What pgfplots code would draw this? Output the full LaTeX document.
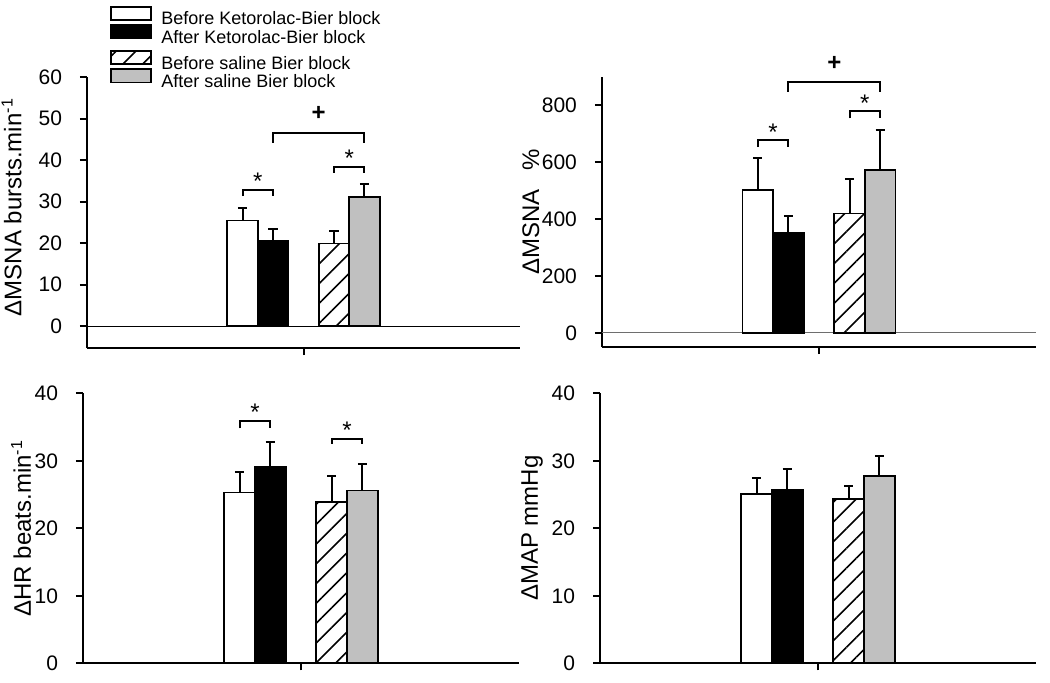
\documentclass[border=0pt]{standalone}
\usepackage{fontspec}
\setmainfont{Liberation Sans}
\usepackage{pgfplots}
\pgfplotsset{compat=1.18}
\usetikzlibrary{patterns.meta}
\definecolor{bargray}{RGB}{192,192,192}
\definecolor{zerogray}{RGB}{110,110,110}

\pgfplotsset{
  myaxis/.style={
    scale only axis, anchor=south west,
    axis x line*=bottom, axis y line*=left,
    axis line style={black, line width=1pt, -},
    xmin=-7.1, xmax=7.1,
    xtick={0}, xticklabels={},
    tick align=outside, major tick length=3.5pt,
    tick style={black, line width=1pt},
    yticklabel style={font=\fontsize{10.5}{12}\selectfont},
    yticklabel shift=5.5pt,
    /pgf/number format/assume math mode=true,
    ylabel style={font=\fontsize{12}{14}\selectfont},
    clip=false,
    legend cell align=left,
    legend image code/.code={\draw[##1, line width=0.9pt] (0pt,-0.1pt) rectangle (20pt,6.65pt);},
  },
  mybar/.style={ybar, bar shift=0pt, bar width=1, draw=black, line width=0.9pt,
    error bars/y dir=plus, error bars/y explicit,
    error bars/error bar style={line width=1pt, black},
    error bars/error mark options={rotate=90, mark size=2.3pt, line width=1pt, black}},
  bwhite/.style={mybar, fill=white},
  bblack/.style={mybar, fill=black},
  bhatch/.style={mybar, fill=white, postaction={pattern={Lines[angle=45,distance=7pt,line width=0.8pt]}}},
  bgray/.style={mybar, fill=bargray},
  brk/.style={black, line width=1pt, mark=none},
  lgd/.style={draw=none, fill=none, inner sep=0pt, outer sep=0pt, row sep=-2pt, column sep=4.8pt,
    font=\fontsize{9}{10}\selectfont, nodes={inner sep=0pt, outer sep=0pt}},
}

\begin{document}
\begin{tikzpicture}
\path[use as bounding box] (0,0) rectangle (525pt,341pt);

% ---------- Panel 1: MSNA bursts/min ----------
\begin{axis}[myaxis, at={(43.5pt,167pt)}, width=216.5pt, height=135.5pt,
  ymin=-5.3, ymax=60, ytick={0,10,20,30,40,50,60},
  ylabel={ΔMSNA bursts.min\textsuperscript{-1}},
  ylabel style={at={(axis description cs:-0.174,0.52)}, anchor=center},
  legend style={lgd, at={(axis description cs:0.053,1.263)}, anchor=north west}]
\addplot[black, line width=0.5pt, forget plot] coordinates {(-7.1,0) (7.1,0)};
\addplot[bwhite] coordinates {(-2,25.4) +- (0,3.1)};
\addlegendentry{Before Ketorolac-Bier block}
\addplot[bblack] coordinates {(-1,20.6) +- (0,2.7)};
\addlegendentry{After Ketorolac-Bier block}
\addplot[bhatch, forget plot] coordinates {(1,19.9) +- (0,3.1)};
\addplot[bgray, forget plot] coordinates {(2,31.0) +- (0,3.3)};
\addplot[brk, forget plot] coordinates {(-2,31.3) (-2,32.8) (-1,32.8) (-1,31.3)};
\addplot[brk, forget plot] coordinates {(1,36.9) (1,38.4) (2,38.4) (2,36.9)};
\addplot[brk, forget plot] coordinates {(-1,44.2) (-1,46.6) (2,46.6) (2,44.2)};
\node[anchor=base, inner sep=0pt, font=\fontsize{12}{12}\selectfont] at (axis cs:-1.5,32.8) {*};
\node[anchor=base, inner sep=0pt, font=\fontsize{12}{12}\selectfont] at (axis cs:1.5,38.4) {*};
\node[anchor=base, inner sep=0pt, yshift=6pt, font=\fontsize{12}{12}\selectfont\bfseries] at (axis cs:0.5,46.6) {+};
\end{axis}

% ---------- Panel 2: MSNA % ----------
\begin{axis}[myaxis, at={(301pt,167.5pt)}, width=217pt, height=135.2pt,
  ymin=-50, ymax=900, ytick={0,200,400,600,800},
  ylabel={ΔMSNA\hspace{0.8em}\%},
  ylabel style={at={(axis description cs:-0.164,0.5)}, anchor=center},
  legend style={lgd, at={(axis description cs:-1.1336,1.099)}, anchor=north west}]
\addplot[zerogray, line width=0.6pt, forget plot] coordinates {(-7.1,0) (7.1,0)};
\addplot[bwhite, forget plot] coordinates {(-2,501) +- (0,112)};
\addplot[bblack, forget plot] coordinates {(-1,350) +- (0,62)};
\addplot[bhatch] coordinates {(1,419) +- (0,120)};
\addlegendentry{Before saline Bier block}
\addplot[bgray] coordinates {(2,571) +- (0,142)};
\addlegendentry{After saline Bier block}
\addplot[brk, forget plot] coordinates {(-2,652) (-2,677) (-1,677) (-1,652)};
\addplot[brk, forget plot] coordinates {(1,753) (1,778) (2,778) (2,753)};
\addplot[brk, forget plot] coordinates {(-1,846) (-1,881) (2,881) (2,846)};
\node[anchor=base, inner sep=0pt, font=\fontsize{12}{12}\selectfont] at (axis cs:-1.5,677) {*};
\node[anchor=base, inner sep=0pt, font=\fontsize{12}{12}\selectfont] at (axis cs:1.5,778) {*};
\node[anchor=base, inner sep=0pt, yshift=6pt, font=\fontsize{12}{12}\selectfont\bfseries] at (axis cs:0.5,881) {+};
\end{axis}

% ---------- Panel 3: HR ----------
\begin{axis}[myaxis, at={(41.5pt,9.35pt)}, width=218pt, height=135pt,
  ymin=0, ymax=40, ytick={0,10,20,30,40},
  ylabel={ΔHR beats.min\textsuperscript{-1}},
  ylabel style={at={(axis description cs:-0.142,0.5)}, anchor=center}]
\addplot[bwhite] coordinates {(-2,25.3) +- (0,3.1)};
\addplot[bblack] coordinates {(-1,29.1) +- (0,3.7)};
\addplot[bhatch] coordinates {(1,23.9) +- (0,3.8)};
\addplot[bgray] coordinates {(2,25.6) +- (0,4.0)};
\addplot[brk] coordinates {(-2,34.8) (-2,35.9) (-1,35.9) (-1,34.8)};
\addplot[brk] coordinates {(1,32.5) (1,33.3) (2,33.3) (2,32.5)};
\node[anchor=base, inner sep=0pt, font=\fontsize{12}{12}\selectfont] at (axis cs:-1.5,35.9) {*};
\node[anchor=base, inner sep=0pt, font=\fontsize{12}{12}\selectfont] at (axis cs:1.5,33.3) {*};
\end{axis}

% ---------- Panel 4: MAP ----------
\begin{axis}[myaxis, at={(300pt,9.35pt)}, width=218pt, height=135pt,
  ymin=0, ymax=40, ytick={0,10,20,30,40},
  ylabel={ΔMAP mmHg},
  ylabel style={at={(axis description cs:-0.156,0.5)}, anchor=center}]
\addplot[bwhite] coordinates {(-2,25.1) +- (0,2.4)};
\addplot[bblack] coordinates {(-1,25.7) +- (0,3.1)};
\addplot[bhatch] coordinates {(1,24.3) +- (0,1.9)};
\addplot[bgray] coordinates {(2,27.7) +- (0,3.0)};
\end{axis}
\end{tikzpicture}
\end{document}
